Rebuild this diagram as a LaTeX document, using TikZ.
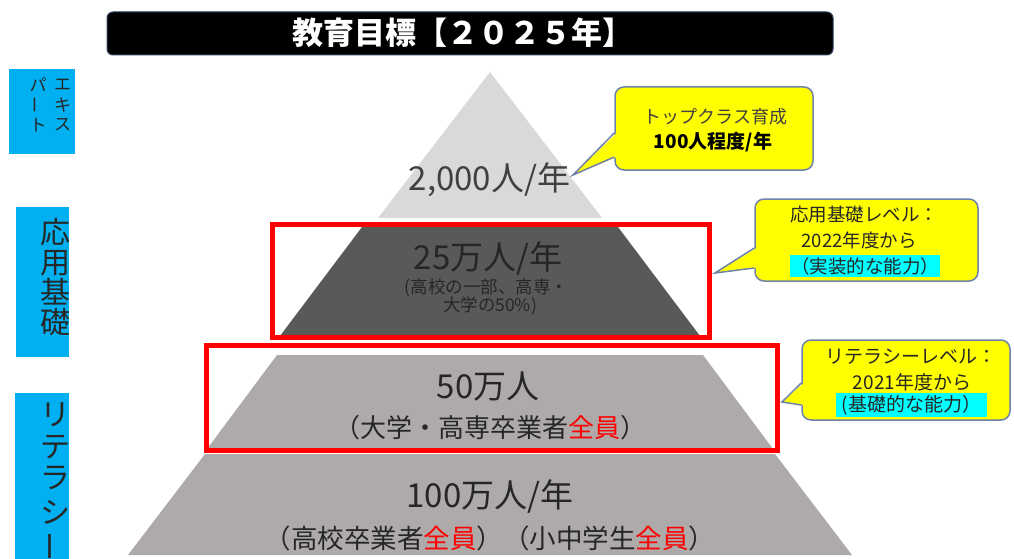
\documentclass[tikz,border=0pt]{standalone}
\usepackage{fontspec}
\setmainfont{Noto Sans CJK JP}
\usetikzlibrary{calc}
\definecolor{tierA}{HTML}{D9D9D9}
\definecolor{tierB}{HTML}{595959}
\definecolor{tierC}{HTML}{AEAAAA}
\definecolor{skyblue}{HTML}{00B0F0}
\definecolor{callyel}{HTML}{FFFF00}
\definecolor{callbd}{RGB}{110,130,170}
\definecolor{hilite}{HTML}{00FFFF}
\definecolor{txt}{HTML}{262626}
\definecolor{txtgray}{HTML}{404040}
\definecolor{titlebd}{HTML}{2F3F5F}
\begin{document}
\begin{tikzpicture}[x=1pt,y=-1pt,
  bluebox/.style={fill=skyblue,draw=none,inner sep=0pt},
  vtext/.style={text=txt,inner sep=0pt},
  callbox/.style={fill=callyel,draw=callbd,line width=1.5pt,rounded corners=9pt,inner sep=0pt},
  callline/.style={draw=callbd,line width=1.5pt,line join=miter},
  redframe/.style={draw=red,line width=5pt},
  pyrtext/.style={text=txt,inner sep=0pt},
  calltext/.style={text=txt,inner sep=0pt},
  hl/.style={fill=hilite,inner sep=0pt,text=txt}
]
\useasboundingbox (0,0) rectangle (1014,559);

% title bar
\node[fill=black,draw=titlebd,line width=1pt,rounded corners=6pt,minimum width=726pt,minimum height=43pt,inner sep=0pt] (title) at (470,33.5) {};
\node[text=white,inner sep=0pt,font=\fontsize{31}{34}\selectfont\bfseries] (titletext) at (463,33) {教育目標【２０２５年】};

% pyramid tiers
\fill[tierA] (490,72) -- (602,218) -- (378,218) -- cycle;
\fill[tierB] (365,223) -- (615,223) -- (700,336) -- (280,336) -- cycle;
\fill[tierC] (277,355) -- (703,355) -- (773,449) -- (207,449) -- cycle;
\fill[tierC] (205,454) -- (775,454) -- (852,555) -- (128,555) -- cycle;

% red frames
\draw[redframe] (272.5,224.5) rectangle (709.5,337.5);
\draw[redframe] (206,345) rectangle (777.5,450.5);

% pyramid texts
\node[pyrtext,text=txtgray,font=\fontsize{33}{36}\selectfont] (t2000) at (489.5,180) {2,000人/年};
\node[pyrtext,font=\fontsize{33}{36}\selectfont] (t25) at (488,259) {25万人/年};
\node[pyrtext,font=\fontsize{17.5}{18}\selectfont] (t25a) at (486.5,287.5) {(高校の一部、高専・};
\node[pyrtext,font=\fontsize{17.5}{18}\selectfont] (t25b) at (490,305.5) {大学の50\%)};
\node[pyrtext,font=\fontsize{33}{36}\selectfont] (t50) at (488,387) {50万人};
\node[pyrtext,font=\fontsize{26}{28}\selectfont] (t50a) at (490,428) {（大学・高専卒業者\textcolor{red}{全員}）};
\node[pyrtext,font=\fontsize{33}{36}\selectfont] (t100) at (490,497) {100万人/年};
\node[pyrtext,font=\fontsize{26.5}{28}\selectfont] (t100a) at (490,538) {（高校卒業者\textcolor{red}{全員}）（小中学生\textcolor{red}{全員}）};

% left blue labels
\node[bluebox,minimum width=66pt,minimum height=85pt] (lb1) at (42,111.5) {};
\node[bluebox,minimum width=53pt,minimum height=150pt] (lb2) at (42.5,282) {};
\node[bluebox,minimum width=54pt,minimum height=172pt] (lb3) at (42,479) {};

\foreach \c/\yy [count=\i] in {エ/85,キ/105,ス/125}
  \node[vtext,font=\fontsize{17}{18}\selectfont] (exr\i) at (62.5,\yy) {\c};
\node[vtext,font=\fontsize{17}{18}\selectfont] (exl1) at (38,85) {パ};
\node[vtext,font=\fontsize{17}{18}\selectfont,rotate=90] (exl2) at (38,105) {ー};
\node[vtext,font=\fontsize{17}{18}\selectfont] (exl3) at (38,125) {ト};

\foreach \c/\yy [count=\i] in {応/232,用/263,基/292,礎/322}
  \node[vtext,font=\fontsize{30}{32}\selectfont] (ap\i) at (55,\yy) {\c};

\foreach \c/\yy [count=\i] in {リ/415,テ/447,ラ/478,シ/512}
  \node[vtext,font=\fontsize{30}{32}\selectfont] (li\i) at (55,\yy) {\c};
\node[vtext,font=\fontsize{30}{32}\selectfont,rotate=90] (li5) at (55,546) {ー};

% callout 1
\node[callbox,minimum width=198pt,minimum height=83pt] (c1) at (714,128.5) {};
\coordinate (tip1) at (573,175);
\fill[callyel] ($(c1.west)+(2.5,4.5)$) -- (tip1) -- ($(c1.west)+(2.5,28.5)$) -- cycle;
\draw[callline] ($(c1.west)+(0,4.5)$) -- (tip1) -- ($(c1.west)+(0,28.5)$);
\node[calltext,text=txtgray,font=\fontsize{18}{20}\selectfont] (c1a) at (715.5,117) {トップクラス育成};
\node[calltext,text=black,font=\fontsize{19}{20}\selectfont\bfseries] (c1b) at (713,142) {100人程度/年};

% callout 2
\node[callbox,minimum width=223pt,minimum height=82pt] (c2) at (866.5,240) {};
\coordinate (tip2) at (715,273);
\fill[callyel] ($(c2.west)+(2.5,8)$) -- (tip2) -- ($(c2.west)+(2.5,28)$) -- cycle;
\draw[callline] ($(c2.west)+(0,8)$) -- (tip2) -- ($(c2.west)+(0,28)$);
\node[calltext,font=\fontsize{18.5}{20}\selectfont] (c2a) at (864,215) {応用基礎レベル：};
\node[calltext,font=\fontsize{18.5}{20}\selectfont] (c2b) at (859,240) {2022年度から};
\node[hl,minimum width=150pt,minimum height=22pt,font=\fontsize{18.5}{20}\selectfont] (c2c) at (865,266) {（実装的な能力）};

% callout 3
\node[callbox,minimum width=208pt,minimum height=80pt] (c3) at (906,380) {};
\coordinate (tip3) at (782,402);
\fill[callyel] ($(c3.west)+(2.5,3)$) -- (tip3) -- ($(c3.west)+(2.5,25)$) -- cycle;
\draw[callline] ($(c3.west)+(0,3)$) -- (tip3) -- ($(c3.west)+(0,25)$);
\node[calltext,font=\fontsize{19}{20}\selectfont] (c3a) at (911,357) {リテラシーレベル：};
\node[calltext,font=\fontsize{19}{20}\selectfont] (c3b) at (912,382) {2021年度から};
\node[hl,minimum width=151pt,minimum height=24pt,font=\fontsize{19}{20}\selectfont] (c3c) at (911.5,405) {(基礎的な能力）};
\end{tikzpicture}
\end{document}
